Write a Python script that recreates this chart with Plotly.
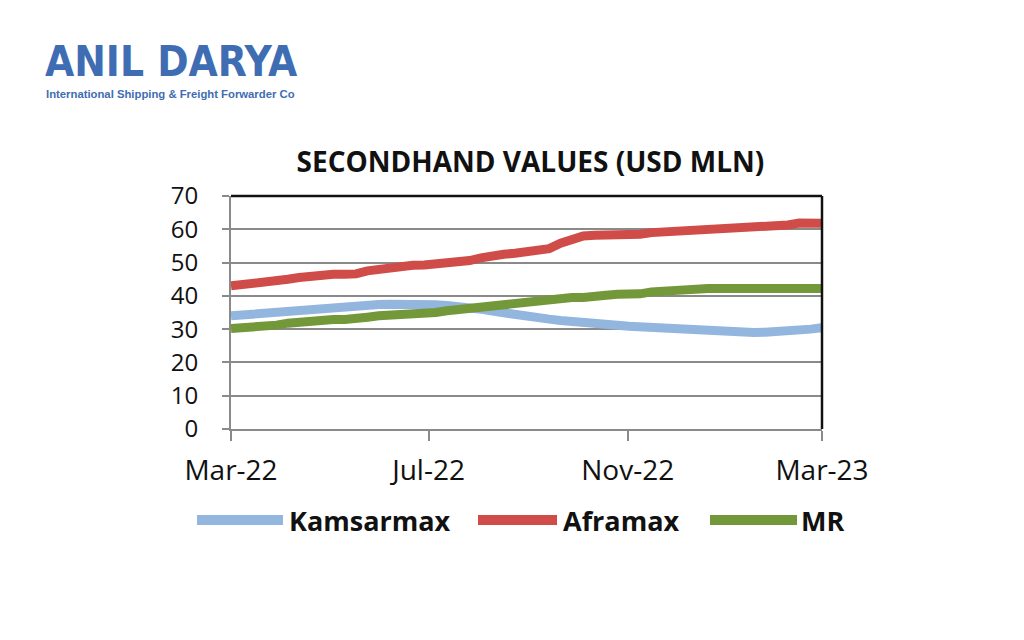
import pandas as pd
import plotly.graph_objects as go

weeks = pd.date_range("2022-03-01", "2023-03-01", periods=53)

kamsarmax = [34.0, 34.3, 34.6, 34.9, 35.1, 35.4, 35.7, 36.0, 36.4, 36.7, 36.9, 37.1, 37.3,
             37.4, 37.5, 37.6, 37.7, 37.6, 37.3, 37.1, 36.9, 36.5, 36.0, 35.4, 34.8, 34.3,
             33.8, 33.4, 33.0, 32.6, 32.2, 31.9, 31.7, 31.4, 31.2, 30.9, 30.7, 30.5, 30.2,
             30.0, 29.8, 29.6, 29.4, 29.2, 29.1, 29.0, 29.0, 29.1, 29.2, 29.4, 29.7, 30.0, 30.4]
aframax = [43.0, 43.3, 43.6, 43.8, 44.3, 45.0, 45.5, 46.0, 46.4, 46.5, 46.5, 46.6, 47.5,
           48.0, 48.3, 48.8, 49.2, 49.3, 49.5, 50.2, 50.5, 50.6, 51.4, 52.1, 52.5, 52.8,
           53.2, 53.6, 54.2, 55.8, 57.2, 58.0, 58.2, 58.2, 58.2, 58.2, 58.5, 59.0, 59.2,
           59.2, 59.3, 59.4, 60.0, 60.1, 60.2, 60.4, 61.0, 61.1, 61.2, 61.3, 61.9, 62.0, 61.8]
mr = [30.2, 30.4, 30.6, 30.7, 31.2, 31.8, 32.2, 32.6, 32.8, 32.9, 32.9, 33.0, 33.6,
      34.0, 34.1, 34.2, 34.4, 34.8, 35.0, 35.5, 35.9, 36.3, 36.7, 36.8, 37.3, 37.9,
      38.3, 38.8, 39.3, 39.5, 39.5, 39.5, 39.6, 40.2, 40.5, 40.5, 40.6, 41.2, 41.5,
      41.6, 41.7, 41.8, 42.2, 42.2, 42.2, 42.2, 42.2, 42.2, 42.2, 42.2, 42.2, 42.2, 42.2]

series_names = ["Kamsarmax", "Aframax", "MR"]
series_values = [kamsarmax, aframax, mr]
colors = ["#93b6df", "#cf4c48", "#73983a"]

x_tick_vals = ["2022-03-01", "2022-07-01", "2022-11-01", "2023-03-01"]
x_tick_text = ["Mar-22", "Jul-22", "Nov-22", "Mar-23"]
y_ticks = [0, 10, 20, 30, 40, 50, 60, 70]

FONT = "Open Sans"
LOGO_FONT = "Liberation Sans Narrow, DejaVu Sans Condensed, Roboto, sans-serif"

fig = go.Figure()
for name, vals, col in zip(series_names, series_values, colors):
    fig.add_trace(go.Scatter(x=weeks, y=vals, mode="lines", name=name,
                             line=dict(color=col, width=9), showlegend=False))

fig.update_layout(
    width=1024, height=640,
    margin=dict(l=231, r=202, t=196, b=211),
    paper_bgcolor="white", plot_bgcolor="white",
    font=dict(family=FONT, color="#111"),
    title=dict(text="<b>SECONDHAND VALUES (USD MLN)</b>", x=0.518, xanchor="center",
               y=1 - 162 / 640, yanchor="middle", font=dict(size=28, family=FONT, color="#111")),
)
fig.update_xaxes(
    range=["2022-03-01", "2023-03-01"], tickvals=x_tick_vals, ticktext=x_tick_text,
    showgrid=False, showline=True, linecolor="#8a8a8a", linewidth=2,
    ticks="outside", ticklen=10, tickwidth=2, tickcolor="#8a8a8a",
    tickfont=dict(size=28, family=FONT, color="#111"), ticklabelstandoff=5,
)
fig.update_yaxes(
    range=[0, 70], tickvals=y_ticks, showgrid=True, gridcolor="#8a8a8a", gridwidth=2,
    showline=True, linecolor="#8a8a8a", linewidth=2, zeroline=False,
    ticks="outside", ticklen=7, tickwidth=2, tickcolor="#8a8a8a",
    tickfont=dict(size=24, family=FONT, color="#111"), ticklabelstandoff=19,
)

# black frame top and right
fig.add_shape(type="line", xref="paper", yref="paper", x0=0, x1=1, y0=1, y1=1,
              line=dict(color="#111", width=2.5))
fig.add_shape(type="line", xref="paper", yref="paper", x0=1, x1=1, y0=0, y1=1,
              line=dict(color="#111", width=2.5))

# manual legend
leg_yp = (520 - 429) / -233
leg_items = [(197, 283, 287), (478, 557, 561), (710, 797, 799)]
for (x0, x1, tx), name, col in zip(leg_items, series_names, colors):
    fig.add_shape(type="line", xref="paper", yref="paper",
                  x0=(x0 - 231) / 591, x1=(x1 - 231) / 591, y0=leg_yp, y1=leg_yp,
                  line=dict(color=col, width=10))
    fig.add_annotation(xref="paper", yref="paper", x=(tx - 231) / 591, y=leg_yp,
                       xanchor="left", yanchor="middle", showarrow=False,
                       text=f"<b>{name}</b>", font=dict(size=27, family=FONT, color="#111"))

# logo
fig.add_annotation(xref="paper", yref="paper", x=(43 - 231) / 591, y=1 + (196 - 62) / 233,
                   xanchor="left", yanchor="middle", showarrow=False,
                   text="<b>ANIL DARYA</b>",
                   font=dict(size=42, family=LOGO_FONT, color="#3f6db3"))
fig.add_annotation(xref="paper", yref="paper", x=(44 - 231) / 591, y=1 + (196 - 94) / 233,
                   xanchor="left", yanchor="middle", showarrow=False,
                   text="<b>International Shipping &amp; Freight Forwarder Co</b>",
                   font=dict(size=11.3, family="Liberation Sans", color="#3f6db3"))

fig.write_html("out.html")
